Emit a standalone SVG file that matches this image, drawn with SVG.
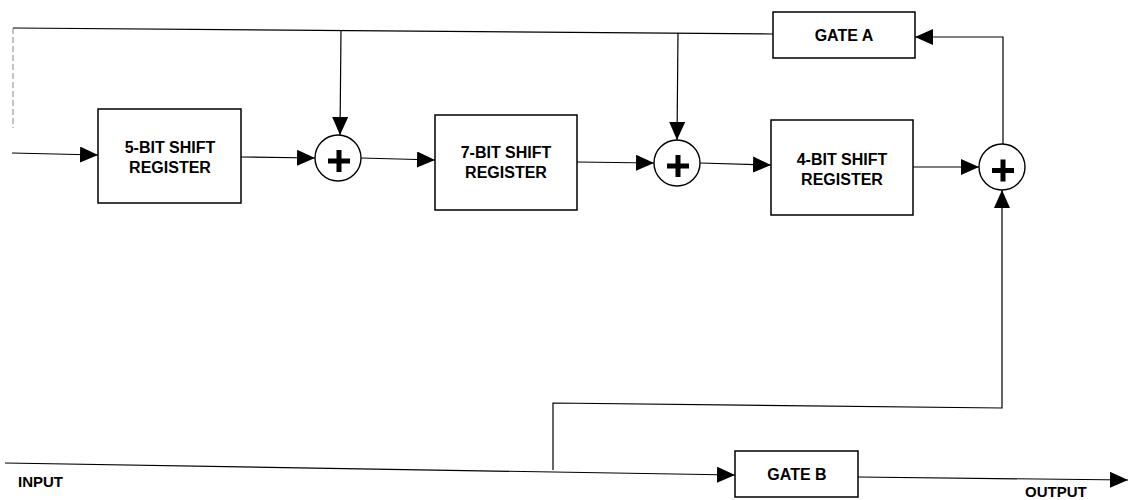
<svg xmlns="http://www.w3.org/2000/svg" width="1130" height="500" viewBox="0 0 1130 500">
<defs>
<marker id="arr" markerUnits="userSpaceOnUse" markerWidth="18" markerHeight="16" refX="18" refY="8" orient="auto" viewBox="0 0 18 16">
<path d="M0,0 L18,8 L0,16 Z" fill="#000"/>
</marker>
</defs>
<style>
.box{fill:#fff;stroke:#000;stroke-width:1.5}
.adder{fill:#fff;stroke:#000;stroke-width:1.4}
.plus{fill:#000}
.wire{fill:none;stroke:#000;stroke-width:1.2}
.faint{fill:none;stroke:#888;stroke-width:1;stroke-dasharray:6 3}
.lbl{font-family:"Liberation Sans",Arial,sans-serif;font-weight:bold;font-size:16px;fill:#000;text-anchor:middle}
.io{font-family:"Liberation Sans",Arial,sans-serif;font-weight:bold;font-size:15px;fill:#000}
</style>
<g id="connectors">
<path class="faint" d="M13,28 L13,128"/>
<path class="wire" d="M773,34 L13,28"/>
<path class="wire" d="M12,153 L98,155" marker-end="url(#arr)"/>
<path class="wire" d="M241,157 L315,158" marker-end="url(#arr)"/>
<path class="wire" d="M341,30 L340,135" marker-end="url(#arr)"/>
<path class="wire" d="M361,158 L435,160" marker-end="url(#arr)"/>
<path class="wire" d="M577,162 L654,163" marker-end="url(#arr)"/>
<path class="wire" d="M678,33 L677,140" marker-end="url(#arr)"/>
<path class="wire" d="M700,163 L771,165" marker-end="url(#arr)"/>
<path class="wire" d="M913,167 L979,167" marker-end="url(#arr)"/>
<path class="wire" d="M1003,144 L1003,37 L915,37" marker-end="url(#arr)"/>
<path class="wire" d="M553,470 L553,403 L1002,408 L1002,190" marker-end="url(#arr)"/>
<path class="wire" d="M5,463 L735,475" marker-end="url(#arr)"/>
<path class="wire" d="M858,477 L1128,480" marker-end="url(#arr)"/>
</g>
<g id="reg5">
<rect class="box" x="98" y="109" width="143" height="94"/>
<text class="lbl" x="170" y="153">5-BIT SHIFT</text>
<text class="lbl" x="170" y="173">REGISTER</text>
</g>
<g id="adder1">
<circle class="adder" cx="338" cy="158" r="23"/>
<rect class="plus" x="328" y="158.5" width="22" height="5"/>
<rect class="plus" x="336.5" y="150" width="5" height="22"/>
</g>
<g id="reg7">
<rect class="box" x="435" y="115" width="142" height="95"/>
<text class="lbl" x="506" y="158">7-BIT SHIFT</text>
<text class="lbl" x="506" y="178">REGISTER</text>
</g>
<g id="adder2">
<circle class="adder" cx="677" cy="163" r="23"/>
<rect class="plus" x="667" y="163.5" width="22" height="5"/>
<rect class="plus" x="675.5" y="155" width="5" height="22"/>
</g>
<g id="reg4">
<rect class="box" x="771" y="120" width="142" height="95"/>
<text class="lbl" x="842" y="165">4-BIT SHIFT</text>
<text class="lbl" x="842" y="185">REGISTER</text>
</g>
<g id="adder3">
<circle class="adder" cx="1002" cy="167" r="23"/>
<rect class="plus" x="992" y="168" width="22" height="5"/>
<rect class="plus" x="1000.5" y="159.5" width="5" height="22"/>
</g>
<g id="gateA">
<rect class="box" x="773" y="12" width="142" height="46"/>
<text class="lbl" x="844" y="41">GATE A</text>
</g>
<g id="gateB">
<rect class="box" x="735" y="451" width="123" height="46"/>
<text class="lbl" x="797" y="480">GATE B</text>
</g>
<g id="input">
<text class="io" x="18" y="487">INPUT</text>
</g>
<g id="output">
<text class="io" x="1025" y="497">OUTPUT</text>
</g>
</svg>
